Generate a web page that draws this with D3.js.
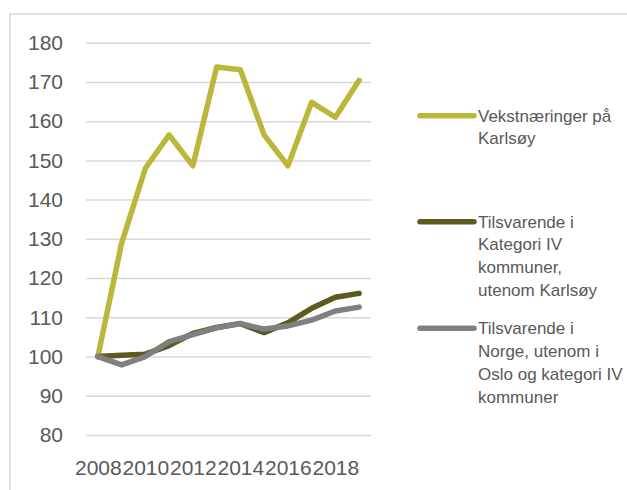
<!DOCTYPE html>
<html>
<head>
<meta charset="utf-8">
<script src="https://cdn.jsdelivr.net/npm/d3@7"></script>
<style>
  html, body { margin: 0; padding: 0; background: #fff; }
  svg { display: block; }
  text { font-family: "Liberation Sans", Arial, sans-serif; fill: #595959; }
</style>
</head>
<body>
<svg id="chart" width="627" height="490"></svg>
<script>
const years = [2008, 2009, 2010, 2011, 2012, 2013, 2014, 2015, 2016, 2017, 2018, 2019];
const xTickLabels = [2008, 2010, 2012, 2014, 2016, 2018];
const yTicks = [80, 90, 100, 110, 120, 130, 140, 150, 160, 170, 180];

const vekst = [100, 128.9, 148.0, 156.5, 148.6, 173.8, 173.1, 156.5, 148.6, 164.8, 161.0, 170.4];
const kategoriIV = [100, 100.3, 100.6, 102.8, 105.9, 107.4, 108.4, 106.1, 108.6, 112.3, 115.1, 116.1];
const norge = [100, 97.9, 100.0, 103.8, 105.6, 107.3, 108.4, 107.0, 107.8, 109.3, 111.6, 112.6];

const seriesNames = ["Vekstnæringer på Karlsøy", "Tilsvarende i Kategori IV kommuner, utenom Karlsøy", "Tilsvarende i Norge, utenom i Oslo og kategori IV kommuner"];
const legendLines = [
  ["Vekstnæringer på", "Karlsøy"],
  ["Tilsvarende i", "Kategori IV", "kommuner,", "utenom Karlsøy"],
  ["Tilsvarende i", "Norge, utenom i", "Oslo og kategori IV", "kommuner"]
];
const colors = ["#bbb73b", "#5c5a1e", "#808080"];

const svg = d3.select("#chart");

// chart frame (clipped on right/bottom like the reference)
svg.append("rect")
  .attr("x", 10).attr("y", 14)
  .attr("width", 700).attr("height", 600)
  .attr("fill", "none").attr("stroke", "#d9d9d9").attr("stroke-width", 1.5);

const x = d3.scalePoint().domain(years).range([86, 371]).padding(0.5);
const y = d3.scaleLinear().domain([80, 180]).range([435, 42.7]);

// y axis with gridlines
const yAxis = svg.append("g").attr("transform", "translate(86,0)")
  .call(d3.axisLeft(y).tickValues(yTicks).tickSize(-285).tickPadding(23));
yAxis.select(".domain").remove();
yAxis.selectAll(".tick line").attr("stroke", "#d9d9d9").attr("stroke-width", 1.5);
yAxis.selectAll(".tick text").attr("font-size", 21).attr("fill", "#595959")
  .style("font-family", "'Liberation Sans', Arial, sans-serif");

// x axis
const xAxis = svg.append("g").attr("transform", "translate(0,435)")
  .call(d3.axisBottom(x).tickValues(xTickLabels).tickSize(0).tickPadding(25));
xAxis.select(".domain").remove();
xAxis.selectAll(".tick text").attr("font-size", 21).attr("fill", "#595959")
  .style("font-family", "'Liberation Sans', Arial, sans-serif");

// lines
const allSeries = [vekst, kategoriIV, norge];
const line = d3.line().x((d, i) => x(years[i])).y(d => y(d));
allSeries.forEach((s, k) => {
  svg.append("path")
    .datum(s)
    .attr("d", line)
    .attr("fill", "none")
    .attr("stroke", colors[k])
    .attr("stroke-width", 5.5)
    .attr("stroke-linejoin", "round")
    .attr("stroke-linecap", "round");
});

// legend
const legendY = [115.7, 221.7, 328.3];
const lineH = 22.8;
legendLines.forEach((lines, k) => {
  const g = svg.append("g").attr("class", "legend-item");
  g.append("line")
    .attr("x1", 420).attr("x2", 474)
    .attr("y1", legendY[k]).attr("y2", legendY[k])
    .attr("stroke", colors[k]).attr("stroke-width", 5.5)
    .attr("stroke-linecap", "round");
  const t = g.append("text")
    .attr("x", 478).attr("y", legendY[k])
    .attr("font-size", 17).attr("dy", "0.35em");
  lines.forEach((ln, j) => {
    t.append("tspan").attr("x", 478).attr("y", legendY[k] + j * lineH).attr("dy", "0.35em").text(ln);
  });
});
</script>
</body>
</html>
